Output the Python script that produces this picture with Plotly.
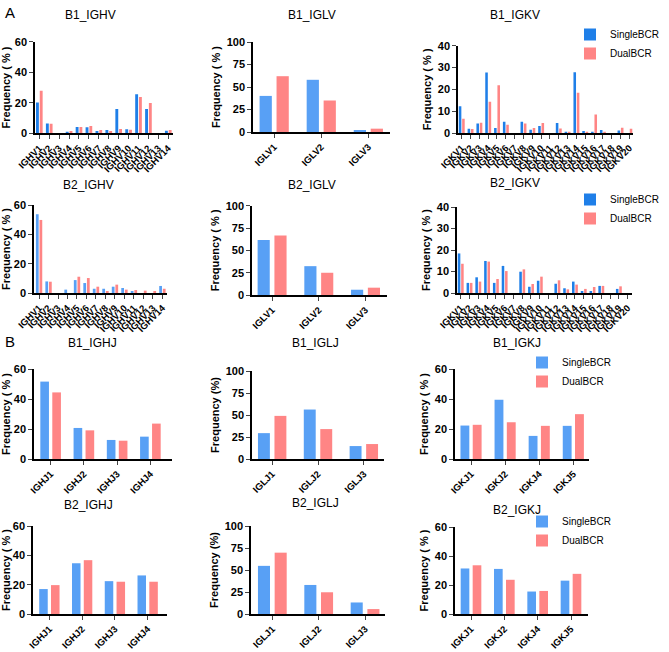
import plotly.graph_objects as go

# ---- data (percent) ----
ighv = ["IGHV1", "IGHV2", "IGHV3", "IGHV4", "IGHV5", "IGHV6", "IGHV7",
        "IGHV8", "IGHV9", "IGHV10", "IGHV11", "IGHV12", "IGHV13", "IGHV14"]
iglv = ["IGLV1", "IGLV2", "IGLV3"]
igkv = ["IGKV1", "IGKV2", "IGKV3", "IGKV4", "IGKV5", "IGKV6", "IGKV7",
        "IGKV8", "IGKV9", "IGKV10", "IGKV11", "IGKV12", "IGKV13", "IGKV14",
        "IGKV15", "IGKV16", "IGKV17", "IGKV18", "IGKV19", "IGKV20"]
ighj = ["IGHJ1", "IGHJ2", "IGHJ3", "IGHJ4"]
iglj = ["IGLJ1", "IGLJ2", "IGLJ3"]
igkj = ["IGKJ1", "IGKJ2", "IGKJ4", "IGKJ5"]

b1_ighv_single = [20.1, 6.5, 0, 0.9, 4.1, 3.9, 1.5, 2.2, 15.9, 2.6, 25.5, 15.9, 0, 1.7]
b1_ighv_dual = [27.9, 6.3, 0, 1.5, 4.1, 4.8, 2.2, 1.5, 2.8, 2.4, 23.8, 19.9, 0, 2.2]
b1_iglv_single = [40.1, 58.0, 2.2]
b1_iglv_dual = [62.0, 35.0, 3.7]
b1_igkv_single = [12.3, 2.0, 4.3, 27.7, 2.3, 5.2, 0, 5.2, 1.5, 3.2,
                  0, 4.6, 0.5, 27.8, 0.9, 0.6, 1.4, 0, 1.1, 0]
b1_igkv_dual = [6.5, 1.8, 4.7, 14.3, 21.9, 3.8, 0, 4.4, 2.3, 4.6,
                0, 2.1, 0.3, 18.4, 0.6, 8.5, 0.6, 0, 2.4, 2.0]

b2_ighv_single = [53.7, 7.9, 0, 2.3, 8.8, 6.8, 2.9, 2.9, 4.3, 3.4, 0.9, 0, 0, 4.8]
b2_ighv_dual = [49.8, 7.7, 0, 0, 11.1, 10.2, 4.3, 1.1, 5.7, 2.3, 2.0, 1.6, 0.9, 2.9]
b2_iglv_single = [61.7, 32.3, 5.9]
b2_iglv_dual = [66.5, 24.9, 8.2]
b2_igkv_single = [18.4, 4.7, 7.3, 14.9, 4.7, 12.6, 0, 9.9, 2.9, 5.7,
                  0, 4.3, 2.2, 5.3, 0.9, 0.9, 3.3, 0, 1.9, 0]
b2_igkv_dual = [13.6, 4.7, 5.3, 14.6, 6.5, 10.2, 0, 11.0, 4.2, 7.6,
                0, 5.9, 1.7, 3.9, 1.9, 2.8, 3.3, 0, 3.1, 0]

b1_ighj_single = [51.6, 20.7, 12.7, 14.9]
b1_ighj_dual = [44.4, 19.1, 12.2, 23.6]
b1_iglj_single = [29.4, 56.2, 14.7]
b1_iglj_dual = [49.0, 34.0, 17.0]
b1_igkj_single = [22.3, 39.5, 15.4, 22.1]
b1_igkj_dual = [22.8, 24.5, 22.1, 29.9]

b2_ighj_single = [17.0, 34.6, 22.4, 26.3]
b2_ighj_dual = [19.7, 36.7, 22.0, 22.0]
b2_iglj_single = [54.7, 33.0, 13.1]
b2_iglj_dual = [69.7, 24.7, 5.6]
b2_igkj_single = [31.4, 31.1, 15.5, 23.0]
b2_igkj_dual = [33.6, 23.6, 15.9, 27.7]

W, H = 669, 652
BLUE_DARK = "#1F7FE8"
BLUE = "#58A0F5"
RED = "#FF8585"
FONT = "Liberation Sans, Arial, sans-serif"
YT = "Frequency ( % )"

# title, cats, single, dual, px box (x0, x1, ytop, ybottom), title pos, ymax, dtick, xrange, blue, legend, ytitle
panels = [
    ("B1_IGHV", ighv, b1_ighv_single, b1_ighv_dual, (35, 173, 41.7, 133.3), (90, 15), 60, 20, [-0.43, 13.48], BLUE_DARK, None, YT),
    ("B1_IGLV", iglv, b1_iglv_single, b1_iglv_dual, (253, 390, 42, 132), (312, 15), 100, 25, [-0.45, 2.46], BLUE, None, YT),
    ("B1_IGKV", igkv, b1_igkv_single, b1_igkv_dual, (458, 633, 45.7, 133), (515, 15), 40, 10, [-0.42, 19.42], BLUE_DARK, "legend", YT),
    ("B2_IGHV", ighv, b2_ighv_single, b2_ighv_dual, (34, 167, 205, 293), (88, 185), 60, 20, [-0.53, 13.49], BLUE, None, YT),
    ("B2_IGLV", iglv, b2_iglv_single, b2_iglv_dual, (252, 387, 205.7, 295), (312, 185), 100, 25, [-0.43, 2.46], BLUE, None, YT),
    ("B2_IGKV", igkv, b2_igkv_single, b2_igkv_dual, (457, 632, 207, 293), (515, 183), 40, 10, [-0.42, 19.5], BLUE_DARK, "legend2", YT),
    ("B1_IGHJ", ighj, b1_ighj_single, b1_ighj_dual, (34, 172, 369, 459), (92, 343), 60, 20, [-0.5, 3.65], BLUE, None, YT),
    ("B1_IGLJ", iglj, b1_iglj_single, b1_iglj_dual, (252, 384, 371, 459), (315, 343), 100, 25, [-0.44, 2.44], BLUE, None, "Frequency (%)"),
    ("B1_IGKJ", igkj, b1_igkj_single, b1_igkj_dual, (455, 589, 369, 459), (517, 343), 60, 20, [-0.47, 3.46], BLUE, "legend3", YT),
    ("B2_IGHJ", ighj, b2_ighj_single, b2_ighj_dual, (33, 167, 526, 614), (88, 505), 60, 20, [-0.5, 3.59], BLUE, None, YT),
    ("B2_IGLJ", iglj, b2_iglj_single, b2_iglj_dual, (251, 385, 526, 614), (315, 503), 100, 25, [-0.46, 2.43], BLUE, None, "Frequency (%)"),
    ("B2_IGKJ", igkj, b2_igkj_single, b2_igkj_dual, (455, 588, 527, 614), (517, 510), 60, 20, [-0.48, 3.51], BLUE, "legend4", YT),
]

fig = go.Figure()
layout = {}
annotations = []

for i, (title, cats, single, dual, box, tpos, ymax, dtick, xr, blue, leg, ytitle) in enumerate(panels):
    n = i + 1
    xa = "x" if n == 1 else "x%d" % n
    ya = "y" if n == 1 else "y%d" % n
    x0, x1, yt, yb = box
    dense = len(cats) > 5
    bw = 0.29 if dense else 0.26
    for name, vals, col, off in [("SingleBCR", single, blue, -0.33 if dense else -0.31),
                                 ("DualBCR", dual, RED, 0.05)]:
        fig.add_trace(go.Bar(
            x=list(range(len(cats))), y=vals, name=name,
            marker=dict(color=col, line=dict(width=0)),
            width=bw, offset=off,
            xaxis=xa, yaxis=ya,
            showlegend=leg is not None,
            legend=leg if leg else "legend",
        ))
    layout["xaxis" if n == 1 else "xaxis%d" % n] = dict(
        domain=[x0 / W, x1 / W], anchor=ya, range=xr, automargin=False,
        tickmode="array", tickvals=list(range(len(cats))), ticktext=cats,
        tickangle=-45, ticks="outside", ticklen=4, tickwidth=1.3,
        showline=True, linecolor="black", linewidth=1.5,
        showgrid=False, zeroline=False, fixedrange=True,
        tickfont=dict(family=FONT, size=9.5, color="black", weight="bold"),
    )
    layout["yaxis" if n == 1 else "yaxis%d" % n] = dict(
        domain=[1 - yb / H, 1 - yt / H], anchor=xa, range=[0, ymax], automargin=False,
        tickmode="linear", tick0=0, dtick=dtick,
        ticks="outside", ticklen=4, tickwidth=1.3,
        showline=True, linecolor="black", linewidth=1.5,
        showgrid=False, zeroline=False,
        tickfont=dict(family=FONT, size=11, color="black", weight="bold"),
        title=dict(text=ytitle, standoff=4,
                   font=dict(family=FONT, size=11, color="black", weight="bold")),
    )
    annotations.append(dict(
        text=title, xref="paper", yref="paper",
        x=tpos[0] / W, y=1 - tpos[1] / H, xanchor="center", yanchor="middle", showarrow=False,
        font=dict(family=FONT, size=12, color="black"),
    ))

annotations.append(dict(text="A", xref="paper", yref="paper", x=3 / W, y=1 - 12 / H,
                        xanchor="left", yanchor="middle", showarrow=False,
                        font=dict(family=FONT, size=15, color="black")))
annotations.append(dict(text="B", xref="paper", yref="paper", x=3 / W, y=1 - 341 / H,
                        xanchor="left", yanchor="middle", showarrow=False,
                        font=dict(family=FONT, size=15, color="black")))

leg_common = dict(xanchor="left", yanchor="top", bgcolor="rgba(0,0,0,0)",
                  font=dict(family=FONT, size=10, color="black"),
                  itemwidth=30, tracegroupgap=0)
layout["legend"] = dict(x=570 / W, y=1 - 20 / H, **leg_common)
layout["legend2"] = dict(x=570 / W, y=1 - 185 / H, **leg_common)
layout["legend3"] = dict(x=522 / W, y=1 - 348 / H, **leg_common)
layout["legend4"] = dict(x=522 / W, y=1 - 507 / H, **leg_common)

fig.update_layout(
    width=W, height=H,
    margin=dict(l=0, r=0, t=0, b=0, autoexpand=False),
    paper_bgcolor="white", plot_bgcolor="white",
    barmode="group",
    annotations=annotations,
    **layout,
)

# drop the default 8px body margin so the figure sits at the window's corner
fig.write_html("out.html", config={"displayModeBar": False},
               post_script="document.body.style.margin='0';")
